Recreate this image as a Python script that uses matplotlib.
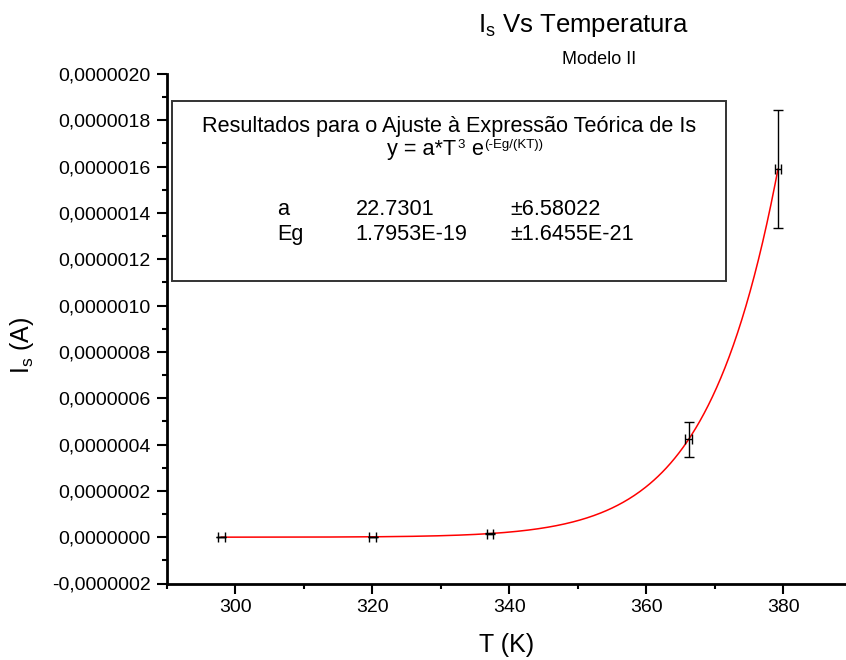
import numpy as np
import matplotlib
matplotlib.use("Agg")
import matplotlib.pyplot as plt
from matplotlib.patches import Rectangle
from matplotlib.ticker import MultipleLocator, FuncFormatter

plt.rcParams["font.family"] = ["Liberation Sans", "DejaVu Sans"]
plt.rcParams["mathtext.fontset"] = "custom"
plt.rcParams["mathtext.rm"] = "Liberation Sans"
plt.rcParams["mathtext.it"] = "Liberation Sans:italic"

T_K = [298.0, 320.1, 337.2, 366.2, 379.2]
I_s = [0.0, 0.0, 1.5e-8, 4.23e-7, 1.59e-6]
T_err = [0.5, 0.5, 0.5, 0.5, 0.5]
I_err = [0.0, 0.0, 3e-9, 7.5e-8, 2.54e-7]

# parâmetros do ajuste mostrados na caixa
a_fit, a_err = 22.7301, 6.58022
Eg_fit, Eg_err = 1.7953e-19, 1.6455e-21
K_BOLTZ = 1.3807e-23

W, H = 846, 660
BOX_FS = 15.6


def fx(px):
    return px / W


def fy(py):
    return 1 - py / H


fig = plt.figure(figsize=(W / 100, H / 100), dpi=100)
ax = fig.add_axes([fx(166.5), fy(583.5), (852 - 166.5) / W, (583.5 - 74) / H])

# curva do modelo y = a*T^3 exp(-Eg/(kT)) com os parâmetros ajustados
T_fit = np.linspace(T_K[0], T_K[-1], 400)
I_fit = a_fit * T_fit**3 * np.exp(-Eg_fit / (K_BOLTZ * T_fit))
ax.plot(T_fit, I_fit, color="red", lw=1.1, zorder=2)
ax.errorbar(T_K, I_s, xerr=T_err, yerr=I_err, fmt="none", ecolor="black",
            elinewidth=1.0, capsize=3.6, capthick=1.0, zorder=3)

ax.set_xlim(290, 390)
ax.set_ylim(-2e-7, 2e-6)
ax.xaxis.set_major_locator(MultipleLocator(20))
ax.xaxis.set_minor_locator(MultipleLocator(10))
ax.yaxis.set_major_locator(MultipleLocator(2e-7))
ax.yaxis.set_minor_locator(MultipleLocator(1e-7))
ax.yaxis.set_major_formatter(FuncFormatter(
    lambda v, p: f"{v:.7f}".replace(".", ",").replace("-0,0000000", "0,0000000")))

for s in ["top", "right"]:
    ax.spines[s].set_visible(False)
for s in ["left", "bottom"]:
    ax.spines[s].set_linewidth(2.0)
ax.tick_params(which="major", direction="out", length=7.2, width=1.5,
               labelsize=14, pad=4)
ax.tick_params(which="minor", direction="out", length=3.8, width=1.5)

fig.text(fx(507), fy(645), "T (K)", ha="center", va="center", fontsize=18)
fig.text(fx(22), fy(345), r"I$_{\mathregular{s}}$ (A)", ha="center",
         va="center", rotation=90, fontsize=18)

# títulos
fig.text(fx(583), fy(31.7), r"I$_{\mathregular{s}}$ Vs Temperatura",
         ha="center", va="baseline", fontsize=18.5)
fig.text(fx(599.5), fy(64.3), "Modelo II", ha="center", va="baseline",
         fontsize=13)

# caixa de resultados
fig.add_artist(Rectangle((fx(172), fy(281)), (726 - 172) / W, (281 - 101) / H,
                         transform=fig.transFigure, fill=False,
                         edgecolor="#333333", lw=1.4))
fig.text(fx(449.5), fy(131.7),
         "Resultados para o Ajuste à Expressão Teórica de Is",
         ha="center", va="baseline", fontsize=BOX_FS)

# linha da expressão, montada por pedaços (expoentes em texto menor)
renderer = fig.canvas.get_renderer()
pieces = [("y = a*T", BOX_FS, 0), ("3", 9.5, 7), (" e", BOX_FS, 0),
          ("(-Eg/(KT))", 9.5, 7)]
x_px = 387
for txt, fs, rise in pieces:
    t = fig.text(fx(x_px), fy(155 - rise), txt, ha="left", va="baseline",
                 fontsize=fs)
    x_px = t.get_window_extent(renderer).x1 + 1

rows = [("a", f"{a_fit}", f"±{a_err}"),
        ("Eg", "1.7953E-19", "±1.6455E-21")]
for i, (name, val, err) in enumerate(rows):
    yb = fy(215 + 25 * i)
    fig.text(fx(277), yb, name, ha="left", va="baseline", fontsize=BOX_FS)
    fig.text(fx(355.7), yb, val, ha="left", va="baseline", fontsize=BOX_FS)
    fig.text(fx(510), yb, err, ha="left", va="baseline", fontsize=BOX_FS)

fig.savefig("out.png", dpi=100)
